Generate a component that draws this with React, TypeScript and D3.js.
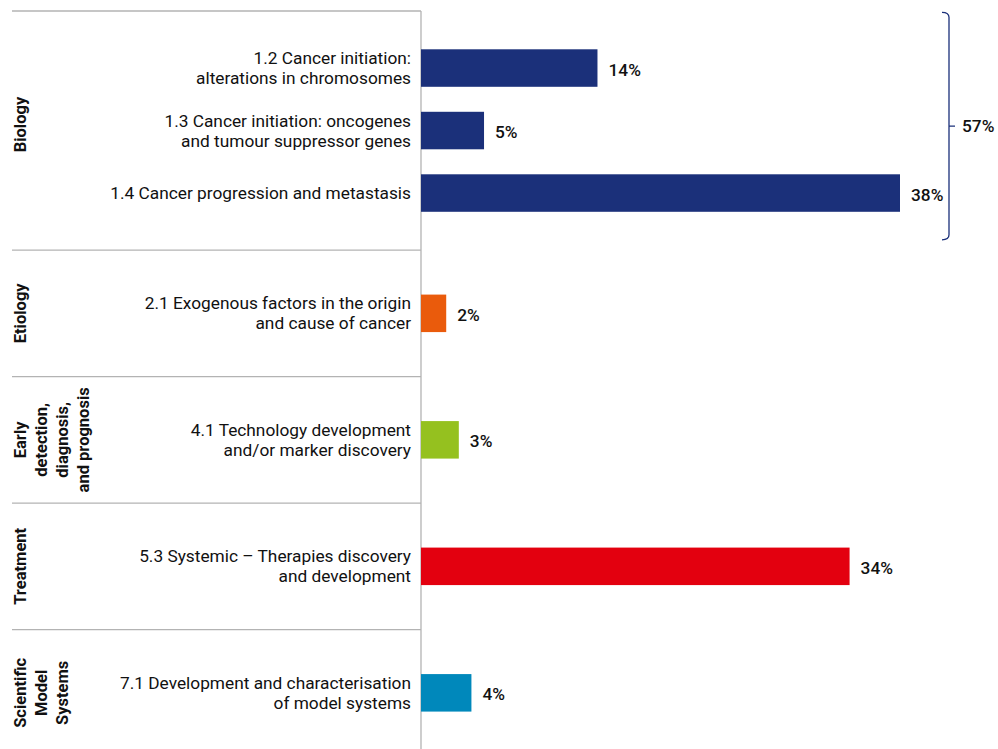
import React from "react";
import * as d3 from "d3";

const groupLabelLines = [["Biology"], ["Etiology"], ["Early", "detection,", "diagnosis,", "and prognosis"], ["Treatment"], ["Scientific", "Model", "Systems"]];
const groupColors = ["#1B307A", "#EA5B0C", "#95C11F", "#E3000F", "#0088BB"];

const categoryGroup = [0, 0, 0, 1, 2, 3, 4];
const categoryLines = [
  ["1.2 Cancer initiation:", "alterations in chromosomes"],
  ["1.3 Cancer initiation: oncogenes", "and tumour suppressor genes"],
  ["1.4 Cancer progression and metastasis"],
  ["2.1 Exogenous factors in the origin", "and cause of cancer"],
  ["4.1 Technology development", "and/or marker discovery"],
  ["5.3 Systemic – Therapies discovery", "and development"],
  ["7.1 Development and characterisation", "of model systems"],
];
const values = [14, 5, 38, 2, 3, 34, 4];
const bracketLabel = "57%";

const W = 998;
const H = 749;
const axisX = 421;
const font = "Roboto, 'Noto Sans', sans-serif";

export default function App() {
  const weights = [3.78, 2, 2, 2, 2];
  const cum = [0];
  weights.forEach((w) => cum.push(cum[cum.length - 1] + w));
  const yU = d3.scaleLinear().domain([0, cum[cum.length - 1]]).range([11, 11 + cum[cum.length - 1] * 63.25]);
  const x = d3.scaleLinear().domain([0, 38]).range([axisX, 900]);
  const barH = 37.5;
  const rowStep = 62.5;

  const catY = values.map((_, i) => {
    const g = categoryGroup[i];
    const members = categoryGroup.map((gg, j) => (gg === g ? j : -1)).filter((j) => j >= 0);
    const k = members.indexOf(i);
    const mid = (yU(cum[g]) + yU(cum[g + 1])) / 2;
    return mid + (k - (members.length - 1) / 2) * rowStep;
  });

  const bioTop = catY[0] - barH / 2 - 37;
  const bioBot = catY[2] + barH / 2 + 28;
  const bx = 949;
  const bMid = (bioTop + bioBot) / 2;

  return (
    <svg width={W} height={H} style={{ position: "absolute", left: 0, top: 0 }} fontFamily={font}>
      <rect width={W} height={H} fill="#fff" />
      {cum.slice(0, cum.length - 1).map((c, i) => (
        <line key={"h" + i} x1={12} x2={axisX} y1={yU(c)} y2={yU(c)} stroke="#b3b3b3" strokeWidth={1.3} />
      ))}
      <line x1={axisX} x2={axisX} y1={yU(0)} y2={H} stroke="#b3b3b3" strokeWidth={1.3} />
      {groupLabelLines.map((lines, g) => {
        const cy = (yU(cum[g]) + yU(cum[g + 1])) / 2 - (g === 0 ? 6 : 0);
        const lh = 21;
        return (
          <text key={"g" + g} transform={`translate(26,${cy}) rotate(-90)`} textAnchor="middle" fontSize={16.5} fontWeight={700} fill="#111">
            {lines.map((l, k) => (
              <tspan key={k} x={0} y={k * lh}>{l}</tspan>
            ))}
          </text>
        );
      })}
      {values.map((v, i) => (
        <rect key={"b" + i} x={x(0)} y={catY[i] - barH / 2} width={x(v) - x(0)} height={barH} fill={groupColors[categoryGroup[i]]} />
      ))}
      {categoryLines.map((lines, i) => {
        const lh = 20;
        const y0 = catY[i] - ((lines.length - 1) * lh) / 2 + 6;
        return (
          <text key={"c" + i} x={411} y={y0} textAnchor="end" fontSize={17.3} fill="#111">
            {lines.map((l, k) => (
              <tspan key={k} x={411} y={y0 + k * lh}>{l}</tspan>
            ))}
          </text>
        );
      })}
      {values.map((v, i) => (
        <text key={"v" + i} x={x(v) + 11} y={catY[i] + 7.5} fontSize={17.3} fontWeight={500} fill="#111">{v}%</text>
      ))}
      <path
        d={`M${bx - 7},${bioTop} Q${bx},${bioTop} ${bx},${bioTop + 5} L${bx},${bioBot - 5} Q${bx},${bioBot} ${bx - 7},${bioBot} M${bx},${bMid} L${bx + 6},${bMid}`}
        fill="none"
        stroke="#1B307A"
        strokeWidth={1.3}
      />
      <text x={bx + 13} y={bMid + 6} fontSize={17.3} fontWeight={500} fill="#111">{bracketLabel}</text>
    </svg>
  );
}
